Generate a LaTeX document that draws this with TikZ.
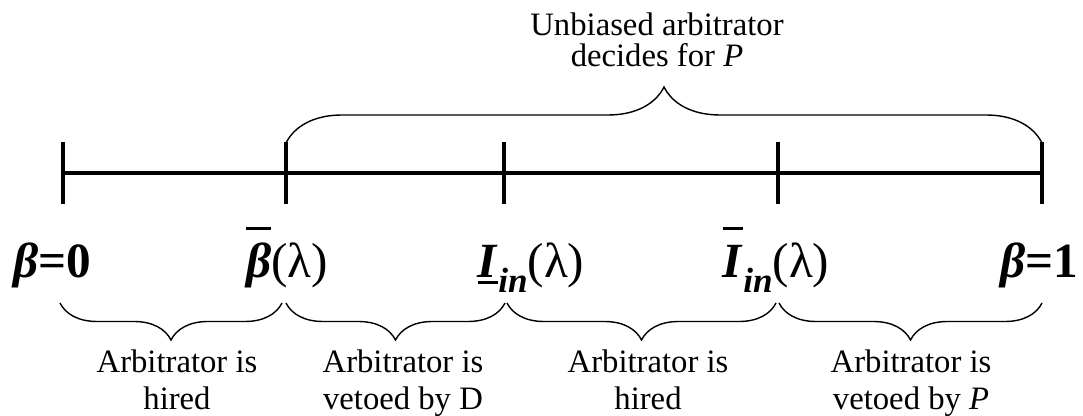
\documentclass[tikz,border=0pt]{standalone}
\usepackage{fontspec}
\setmainfont{Liberation Serif}
\usetikzlibrary{calc,decorations.pathreplacing}
\newcommand{\bfit}[1]{\textbf{\textit{#1}}}
\newcommand{\ovl}[1]{\setbox0\hbox{#1}\rlap{\rule[0.98em]{\wd0}{0.06em}}\box0}
\newcommand{\unl}[1]{\setbox0\hbox{#1}\rlap{\rule[-0.12em]{\wd0}{0.06em}}\box0}
\newcommand{\subin}{\raisebox{-0.3em}{\fontsize{20}{20}\selectfont\bfit{in}}}
\tikzset{
  axis/.style={line width=2.5pt},
  tick/.style={line width=2.5pt},
  upbrace/.style={decorate,decoration={brace,amplitude=#1},line width=0.8pt},
  lowbrace/.style={decorate,decoration={brace,mirror,amplitude=#1},line width=0.8pt},
  point/.style={font=\fontsize{28}{30}\selectfont,inner sep=0pt,anchor=base},
  note/.style={font=\fontsize{18.6}{21.5}\selectfont,align=center,inner sep=0pt,anchor=base},
}

\begin{document}
\begin{tikzpicture}
  \useasboundingbox (0,0) rectangle (21.66,8.32);

  % points on the beta axis
  \coordinate (b0) at (1.26,4.86);
  \coordinate (bb) at (5.72,4.86);
  \coordinate (il) at (10.08,4.86);
  \coordinate (iu) at (15.56,4.86);
  \coordinate (b1) at (20.84,4.86);

  \draw[axis] (b0) -- (b1);
  \foreach \p in {b0,bb,il,iu,b1}
    \draw[tick] ($(\p)+(0,0.62)$) -- ($(\p)+(0,-0.62)$);

  % point labels
  \node[point] (lb0) at ($(b0)+(-0.22,-2.1)$) {\bfit{β}\textbf{=0}};
  \node[point] (lbb) at ($(bb)+(0.02,-2.1)$) {\ovl{\bfit{β}}(λ)};
  \node[point] (lil) at ($(il)+(0.54,-2.1)$) {\unl{\bfit{I}}\subin(λ)};
  \node[point] (liu) at ($(iu)+(-0.04,-2.1)$) {\ovl{\bfit{I}}\subin(λ)};
  \node[point] (lb1) at ($(b1)+(-0.06,-2.1)$) {\bfit{β}\textbf{=1}};

  % brace above
  \draw[upbrace=1.12cm] ($(bb)+(0,0.6)$) -- ($(b1)+(0,0.6)$);
  \node[note,font=\fontsize{18.6}{18.1}\selectfont] (top) at (13.14,6.98)
    {Unbiased arbitrator\\decides for \textit{P}};

  % braces below
  \draw[lowbrace=0.74cm] ($(b0)+(-0.06,-2.6)$) -- ($(bb)+(-0.08,-2.6)$);
  \draw[lowbrace=0.74cm] ($(bb)+(0,-2.6)$) -- ($(il)+(0.02,-2.6)$);
  \draw[lowbrace=0.74cm] ($(il)+(0.06,-2.6)$) -- ($(iu)+(-0.04,-2.6)$);
  \draw[lowbrace=0.74cm] ($(iu)+(0.02,-2.6)$) -- ($(b1)+(0,-2.6)$);

  \node[note] (s1) at (3.54,0.12) {Arbitrator is\\hired};
  \node[note] (s2) at (8.06,0.12) {Arbitrator is\\vetoed by D};
  \node[note] (s3) at (12.96,0.12) {Arbitrator is\\hired};
  \node[note] (s4) at (18.22,0.12) {Arbitrator is\\vetoed by \textit{P}};
\end{tikzpicture}
\end{document}
